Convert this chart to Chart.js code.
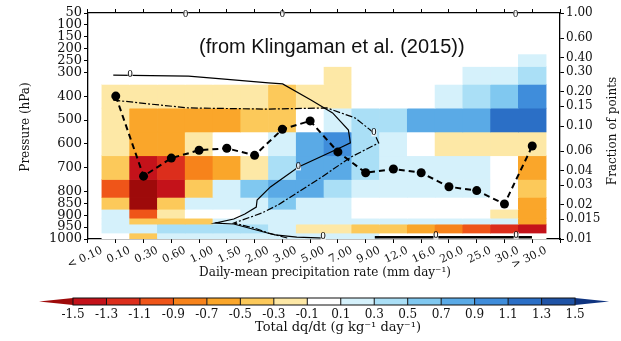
<!DOCTYPE html>
<html>
<head>
<meta charset="utf-8">
<script src="https://cdn.jsdelivr.net/npm/chart.js@4.4.0/dist/chart.umd.min.js"></script>
<style>
  html, body { margin: 0; padding: 0; background: #fff; }
  #wrap { width: 621px; height: 341px; }
</style>
</head>
<body>
<div id="wrap"><canvas id="chart" width="621" height="341"></canvas></div>
<script>
/* =========================
   DATA
========================= */
const precipLabels = ['< 0.10', '0.10', '0.30', '0.60', '1.00', '1.50', '2.00', '3.00', '5.00',
  '7.00', '9.00', '12.0', '16.0', '20.0', '25.0', '30.0', '> 30.0'];
const pressureTicks = [50, 100, 150, 200, 250, 300, 400, 500, 600, 700, 800, 850, 900, 950, 1000];
const fractionTicks = [1, 0.6, 0.4, 0.3, 0.2, 0.15, 0.1, 0.06, 0.04, 0.03, 0.02, 0.015, 0.01];
const fractionTickLabels = ['1.00', '0.60', '0.40', '0.30', '0.20', '0.15', '0.10', '0.06',
  '0.04', '0.03', '0.02', '0.015', '0.01'];

// model levels (hPa) that carry a row of cells
const levels = [250, 300, 400, 500, 600, 700, 800, 850, 900, 925, 950, 1000];

// total dq/dt (g kg-1 day-1), one row per level, one value per precipitation bin
const dq250  = [0, 0, 0, 0, 0, 0, 0, 0, 0, 0, 0, 0, 0, 0, 0, 0.2];
const dq300  = [0, 0, 0, 0, 0, 0, 0, 0, -0.2, 0, 0, 0, 0, 0.2, 0.2, 0.4];
const dq400  = [-0.2, -0.2, -0.2, -0.2, -0.2, -0.2, -0.4, -0.2, -0.2, 0, 0, 0, 0.2, 0.4, 0.6, 1.0];
const dq500  = [-0.2, -0.6, -0.6, -0.6, -0.6, -0.4, -0.4, 0, 0.2, 0.4, 0.4, 0.85, 0.85, 0.85, 1.2, 1.2];
const dq600  = [-0.2, -0.6, -0.6, -0.2, 0, 0, 0.2, 0.75, 0.95, 0.4, 0.2, 0, -0.2, -0.2, -0.2, -0.2];
const dq700  = [-0.4, -1.4, -1.2, -0.8, -0.6, -0.2, 0.3, 0.7, 0.8, 0.4, 0.2, 0.2, 0.2, 0.2, 0, -0.6];
const dq800  = [-0.95, -1.6, -1.4, -0.4, 0.2, 0.6, 0.8, 0.8, 0.4, 0.2, 0.2, 0.2, 0.2, 0.2, 0, -0.4];
const dq850  = [-0.4, -1.6, -0.4, 0.2, 0.2, 0.2, 0.6, 0.2, 0.2, 0, 0, 0, 0, 0, 0, -0.6];
const dq900  = [0.2, -0.95, -0.2, 0, 0, 0.2, 0.2, 0.2, 0.2, 0, 0, 0, 0, 0, -0.2, -0.6];
const dq925  = [0.2, -0.4, -0.4, -0.4, 0.2, 0.2, 0.2, 0.2, 0.2, 0.2, 0.2, 0.2, 0.2, 0.2, 0.2, -0.6];
const dq950  = [0.2, 0.2, 0.4, 0.4, 0.4, 0.4, 0.2, -0.2, -0.2, -0.4, -0.45, -0.6, -0.75, -1.0, -1.2, -1.4];
const dq1000 = [0, -0.4, 0.2, 0.2, 0.2, 0.2, 0.2, 0.2, 0.2, 0.2, 0, 0, 0, 0, 0, 0];
const dqRows = [dq250, dq300, dq400, dq500, dq600, dq700, dq800, dq850, dq900, dq925, dq950, dq1000];

// fraction of points in each precipitation bin
const fraction = [0.184, 0.036, 0.052, 0.061, 0.0635, 0.055, 0.0935, 0.111, 0.059, 0.0386,
  0.0416, 0.0386, 0.029, 0.0268, 0.0204, 0.0665];

// contour traces (x = bin units, y = hPa)
const contourSolid = [
  { x: 0.41, y: 311 }, { x: 3.12, y: 315 }, { x: 4.31, y: 327 }, { x: 6.0, y: 344 },
  { x: 6.51, y: 348 }, { x: 7.53, y: 416 }, { x: 8.31, y: 470 }, { x: 8.88, y: 542 },
  { x: 8.95, y: 596 }, { x: 8.64, y: 613 }, { x: 7.08, y: 697 }, { x: 6.07, y: 781 },
  { x: 5.59, y: 836 }, { x: 5.56, y: 866 }, { x: 5.15, y: 895 }, { x: 4.75, y: 916 },
  { x: 4.07, y: 933 }, { x: 4.75, y: 937 }, { x: 5.56, y: 962 }, { x: 6.24, y: 983 },
  { x: 7.02, y: 992 }, { x: 8.03, y: 996 }
];
const contourDashed = [
  { x: 0.41, y: 416 }, { x: 1.76, y: 433 }, { x: 3.12, y: 449 }, { x: 6.0, y: 454 },
  { x: 8.10, y: 449 }, { x: 9.12, y: 491 }, { x: 9.80, y: 554 }, { x: 9.97, y: 596 },
  { x: 8.98, y: 655 }, { x: 7.86, y: 744 }, { x: 7.19, y: 794 }, { x: 6.34, y: 857 },
  { x: 5.76, y: 891 }, { x: 4.75, y: 933 }, { x: 5.49, y: 954 }, { x: 6.0, y: 975 },
  { x: 6.68, y: 996 }
];
const contourFloor = [{ x: 9.83, y: 993 }, { x: 15.49, y: 993 }];
const contourZeros = [
  { x: 1.02, y: 311 }, { x: 7.08, y: 697 }, { x: 9.80, y: 554 }, { x: 7.97, y: 990 },
  { x: 12.03, y: 988 }, { x: 14.92, y: 985 }, { x: 3.02, y: 58 }, { x: 6.5, y: 58 }, { x: 14.9, y: 58 }
];

// colour bar
const cbLevels = [-1.5, -1.3, -1.1, -0.9, -0.7, -0.5, -0.3, -0.1, 0.1, 0.3, 0.5, 0.7, 0.9, 1.1, 1.3, 1.5];
const cbColors = ['#9e0a0a', '#c4121a', '#dc2e1c', '#ef5519', '#f7831b', '#faa62a', '#fcc95a', '#fde8a6',
  '#ffffff', '#d5f1fb', '#aadff6', '#80c8f0', '#5aaae6', '#3f8ddb', '#2b6fc6', '#1f53a6', '#0f3480'];

/* =========================
   HELPERS
========================= */
const SERIF = '"DejaVu Serif", serif';

function colorFor(v) {
  for (let j = 0; j < cbLevels.length; j++) {
    if (v < cbLevels[j]) return cbColors[j];
  }
  return cbColors[cbColors.length - 1];
}

function rowBounds(r) {
  const n = levels.length;
  const top = r === 0 ? levels[0] - (levels[1] - levels[0]) / 2 : (levels[r - 1] + levels[r]) / 2;
  const bot = r === n - 1 ? levels[r] : (levels[r] + levels[r + 1]) / 2;
  return [top, bot];
}

const cellSets = levels.map((lev, r) => {
  const [top, bot] = rowBounds(r);
  const vals = dqRows[r];
  return {
    type: 'bar',
    label: lev + ' hPa',
    data: vals.map((v, i) => ({ x: i + 0.5, y: [bot, top] })),
    backgroundColor: vals.map(colorFor),
    borderWidth: 0,
    grouped: false,
    barPercentage: 1,
    categoryPercentage: 1,
    xAxisID: 'x',
    yAxisID: 'y',
    order: 10
  };
});

const lineBase = { type: 'line', xAxisID: 'x', yAxisID: 'y', borderColor: '#000', pointRadius: 0, fill: false, tension: 0, order: 2 };

/* =========================
   EXTRA DRAWING
========================= */
const annotate = {
  id: 'annotate',
  afterDatasetsDraw(chart) {
    const ctx = chart.ctx;
    const xs = chart.scales.x, ys = chart.scales.y;
    ctx.save();
    ctx.font = '9px ' + SERIF;
    ctx.textAlign = 'center';
    ctx.textBaseline = 'middle';
    contourZeros.forEach(p => {
      const px = xs.getPixelForValue(p.x), py = ys.getPixelForValue(p.y);
      ctx.fillStyle = 'rgba(255,255,255,0.8)';
      ctx.fillRect(px - 2.5, py - 3.5, 5, 7);
      ctx.fillStyle = '#000';
      ctx.fillText('0', px, py);
    });
    ctx.restore();
  },
  afterDraw(chart) {
    const ctx = chart.ctx;
    ctx.save();

    // source note
    ctx.fillStyle = '#111';
    ctx.font = '20px "Liberation Sans", Arial, sans-serif';
    ctx.textAlign = 'left';
    ctx.textBaseline = 'middle';
    ctx.fillText('(from Klingaman et al. (2015))', 199, 47);

    // axis titles
    ctx.font = '12px ' + SERIF;
    ctx.textAlign = 'center';
    ctx.fillText('Daily-mean precipitation rate (mm day\u207B\u00B9)', 325, 273);

    ctx.save();
    ctx.translate(26, 127);
    ctx.rotate(-Math.PI / 2);
    ctx.fillText('Pressure (hPa)', 0, 0);
    ctx.restore();

    ctx.save();
    ctx.translate(613, 131);
    ctx.rotate(-Math.PI / 2);
    ctx.fillText('Fraction of points', 0, 0);
    ctx.restore();

    // colour bar
    const x0 = 73, step = 33.47, top = 298, h = 7, ext = 34;
    const nBox = cbLevels.length - 1;
    for (let j = 0; j < nBox; j++) {
      ctx.fillStyle = cbColors[j + 1];
      ctx.fillRect(x0 + j * step, top, step, h);
    }
    ctx.fillStyle = cbColors[0];
    ctx.beginPath();
    ctx.moveTo(x0, top); ctx.lineTo(x0 - ext, top + h / 2); ctx.lineTo(x0, top + h); ctx.closePath();
    ctx.fill();
    ctx.fillStyle = cbColors[cbColors.length - 1];
    const xr = x0 + nBox * step;
    ctx.beginPath();
    ctx.moveTo(xr, top); ctx.lineTo(xr + ext, top + h / 2); ctx.lineTo(xr, top + h); ctx.closePath();
    ctx.fill();

    ctx.strokeStyle = '#111';
    ctx.lineWidth = 1;
    ctx.strokeRect(x0, top, nBox * step, h);
    for (let j = 1; j < nBox; j++) {
      ctx.beginPath();
      ctx.moveTo(x0 + j * step, top);
      ctx.lineTo(x0 + j * step, top + h);
      ctx.stroke();
    }

    ctx.fillStyle = '#111';
    ctx.font = '12px ' + SERIF;
    ctx.textAlign = 'center';
    cbLevels.forEach((v, j) => {
      ctx.fillText(v.toFixed(1), x0 + j * step, 315);
    });
    ctx.font = '13px ' + SERIF;
    ctx.fillText('Total dq/dt (g kg\u207B\u00B9 day\u207B\u00B9)', 338, 328);

    ctx.restore();
  }
};

/* =========================
   CHART
========================= */
const binTicks = s => { s.ticks = precipLabels.map((_, i) => ({ value: i })); };

new Chart(document.getElementById('chart'), {
  type: 'bar',
  data: {
    datasets: [
      ...cellSets,
      { ...lineBase, data: contourSolid, borderWidth: 1.2 },
      { ...lineBase, data: contourDashed, borderWidth: 1.2, borderDash: [7, 2, 2, 2] },
      { ...lineBase, data: contourFloor, borderWidth: 2.5 },
      {
        type: 'line',
        data: fraction.map((f, i) => ({ x: i + 0.5, y: f })),
        xAxisID: 'x',
        yAxisID: 'y2',
        borderColor: '#000',
        borderWidth: 2,
        borderDash: [6, 4],
        pointRadius: 4.5,
        pointBackgroundColor: '#000',
        pointBorderWidth: 0,
        tension: 0,
        fill: false,
        order: 1
      }
    ]
  },
  options: {
    responsive: false,
    animation: false,
    events: [],
    layout: { padding: { top: 13, left: 0, right: 0, bottom: 72 } },
    plugins: { legend: { display: false }, tooltip: { enabled: false } },
    scales: {
      x: {
        type: 'linear', position: 'bottom', min: 0, max: 16,
        afterBuildTicks: binTicks,
        afterFit: s => { s.height = 30; },
        ticks: {
          autoSkip: false, minRotation: 25, maxRotation: 25, padding: 1,
          color: '#111', font: { family: SERIF, size: 11 },
          callback: v => precipLabels[v]
        },
        grid: { drawOnChartArea: false, tickLength: 4, color: '#000' },
        border: { color: '#000', width: 1.3 }
      },
      xTop: {
        type: 'linear', position: 'top', min: 0, max: 16,
        afterBuildTicks: binTicks,
        afterFit: s => { s.height = 0; },
        ticks: { display: false },
        grid: { drawOnChartArea: false, tickLength: 4, color: '#000' },
        border: { color: '#000', width: 1.3 }
      },
      y: {
        type: 'linear', position: 'left', reverse: true, min: 50, max: 1000,
        afterBuildTicks: s => { s.ticks = pressureTicks.map(v => ({ value: v })); },
        afterFit: s => { s.width = 88; },
        ticks: {
          autoSkip: false, padding: 2, color: '#111',
          font: { family: SERIF, size: 13 },
          callback: v => String(v)
        },
        grid: { drawOnChartArea: false, tickLength: 4, color: '#000' },
        border: { color: '#000', width: 1.3 }
      },
      y2: {
        type: 'logarithmic', position: 'right', min: 0.01, max: 1,
        afterBuildTicks: s => { s.ticks = fractionTicks.map(v => ({ value: v })); },
        afterFit: s => { s.width = 61; },
        ticks: {
          autoSkip: false, padding: 2, color: '#111',
          font: { family: SERIF, size: 12 },
          callback: v => fractionTickLabels[fractionTicks.indexOf(v)]
        },
        grid: { drawOnChartArea: false, tickLength: 4, color: '#000' },
        border: { color: '#000', width: 1.3 }
      }
    }
  },
  plugins: [annotate]
});
</script>
</body>
</html>
